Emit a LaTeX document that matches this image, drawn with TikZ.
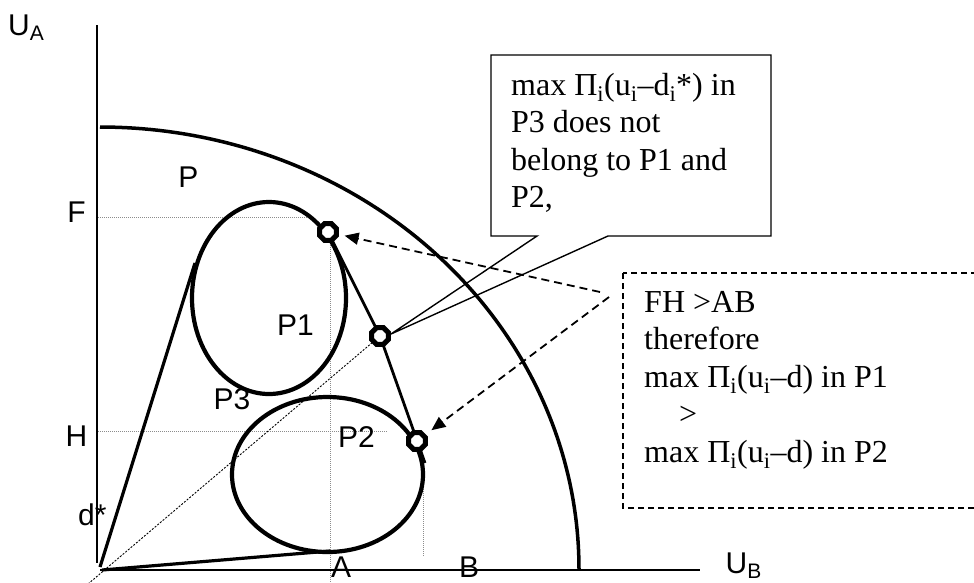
\documentclass[tikz,border=0pt]{standalone}
\usepackage{fontspec}
\setmainfont{Liberation Serif}
\newfontfamily\lblfont{Liberation Sans}
\usetikzlibrary{shapes.geometric,arrows.meta}
\begin{document}
\begin{tikzpicture}[x=1pt,y=-1pt,
  lbl/.style={font=\lblfont\fontsize{30}{36}\selectfont, inner sep=0},
  txt/.style={font=\fontsize{32}{37.5}\selectfont, inner sep=0, anchor=base west},
  curve/.style={line width=4.2pt},
  axis/.style={line width=2.5pt},
  tangent/.style={line width=3.2pt},
  marker/.style={regular polygon, regular polygon sides=8, minimum size=18pt, draw, line width=5pt, fill=white, inner sep=0},
  guide/.style={black!45, line width=1pt, dash pattern=on 1pt off 1pt},
  diag/.style={line width=0.9pt, dash pattern=on 2pt off 1.5pt},
  arr/.style={line width=1.8pt, dash pattern=on 8pt off 5pt, -{Triangle[length=14pt,width=12pt]}},
  callout/.style={line width=1.4pt},
  dbox/.style={line width=1.5pt, dash pattern=on 6pt off 4pt}
]
\useasboundingbox (0,0) rectangle (974,582);
\clip (0,0) rectangle (974,582);

% key points
\coordinate (p1) at (328,232);
\coordinate (p2) at (380,336);
\coordinate (p3) at (417,441);
\coordinate (p3end) at (425,463);
\coordinate (tip) at (391,334);
\coordinate (s1) at (600,292);
\coordinate (s2) at (609,297);
\coordinate (o) at (88,584);

% guide lines
\draw[guide] (98,217) -- (310,217);
\draw[guide] (330,245) -- (330,582);
\draw[guide] (98,431) -- (388,431);
\draw[guide] (423,455) -- (423,557);

% diagonal from origin
\draw[diag] (o) -- (p2);

% callout box
\draw[callout] (537,236) -- (491,236) -- (491,55) -- (771,55) -- (771,236) -- (608,236) -- (tip) -- cycle;

% dashed box
\draw[dbox] (623,273) rectangle (1000,508);

% dashed arrows
\draw[arr, shorten >=17pt] (s1) -- (p1);
\draw[arr, shorten >=18pt] (s2) -- (p3);

% frontier
\draw[line width=3.5pt] plot[domain=0:90, samples=90] ({100+479*cos(\x)}, {569-442*sin(\x)});

% axes
\draw[axis] (97,25) -- (97,563);
\draw[axis] (100,570) -- (700,570);

% tangent lines from origin
\draw[tangent] (100,567) -- (195,263);
\draw[tangent] (102,570) -- (330,551);

% sets P1, P2
\draw[curve] (269,298) ellipse[x radius=77, y radius=96];
\draw[curve] (327.5,474.5) ellipse[x radius=95.5, y radius=77.5];

% line through the optima
\draw[line width=2.8pt] (p1) -- (p2) -- (p3end);

% markers
\node[marker] (m1) at (p1) {};
\node[marker] (m2) at (p2) {};
\node[marker] (m3) at (p3) {};

% axis and set labels
\node[lbl, anchor=base west] (ua) at (8,35) {U\textsubscript{A}};
\node[lbl, anchor=base west] (ub) at (725.5,573) {U\textsubscript{B}};
\node[lbl] (lf) at (76.5,212) {F};
\node[lbl] (lh) at (76.5,436.5) {H};
\node[lbl, anchor=base west] (ld) at (78,525) {d*};
\node[lbl] (la) at (341,567) {A};
\node[lbl] (lb) at (469,567) {B};
\node[lbl] (lp) at (188.5,177) {P};
\node[lbl] (lp1) at (295.5,325.5) {P1};
\node[lbl] (lp2) at (356.5,437.5) {P2};
\node[lbl] (lp3) at (232,399) {P3};

% texts
\node[txt] (t1) at (511,95) {\parbox[t]{255pt}{\raggedright max Π\textsubscript{i}(u\textsubscript{i}–d\textsubscript{i}*) in\\P3 does not\\belong to P1 and\\P2,}};
\node[txt] (t2) at (644,312) {\parbox[t]{320pt}{\raggedright FH >AB\\therefore\\max Π\textsubscript{i}(u\textsubscript{i}–d) in P1\\\hspace*{35pt}>\\max Π\textsubscript{i}(u\textsubscript{i}–d) in P2}};
\end{tikzpicture}
\end{document}
